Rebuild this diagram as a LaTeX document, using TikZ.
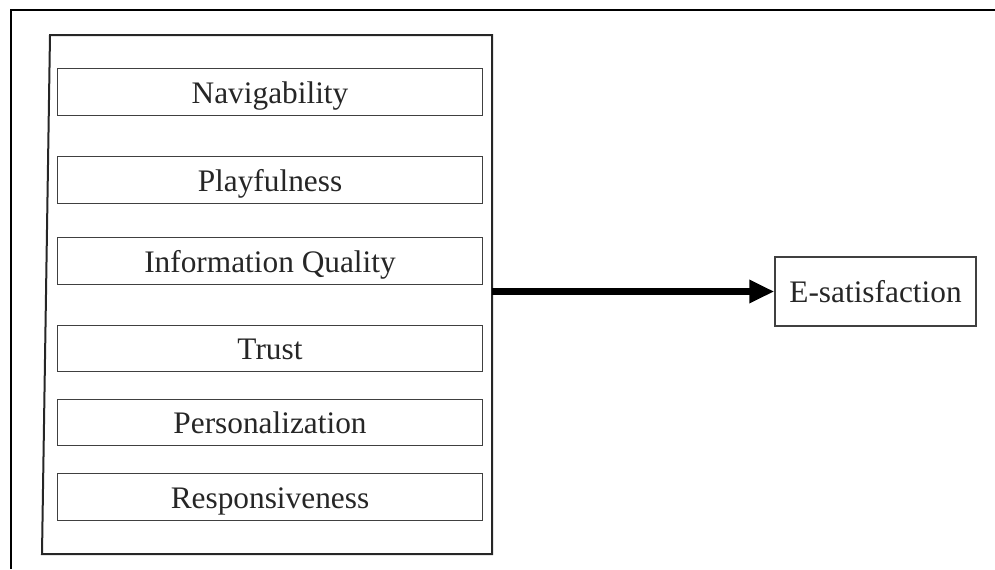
\documentclass[tikz,border=0pt]{standalone}
\usepackage{fontspec}
\setmainfont{Liberation Serif}
\usetikzlibrary{arrows.meta}
\begin{document}
\begin{tikzpicture}[x=0.75pt,y=-0.75pt,
  frameline/.style={line width=1.6pt,black},
  groupline/.style={line width=1.5pt,black!85},
  label text/.style={font=\fontsize{23.5}{27}\selectfont,text=black!85,
    text height=16.5pt,text depth=0pt,inner sep=0pt},
  factor/.style={label text,draw=black!75,line width=1.1pt,minimum width=425.5*0.75pt,
    minimum height=46.5*0.75pt},
  outcome/.style={label text,draw=black!75,line width=1.1pt,minimum width=201*0.75pt,
    minimum height=69*0.75pt},
  link/.style={line width=5pt,-{Triangle[length=25*0.75pt,width=22*0.75pt]}}]
\useasboundingbox (0,0) rectangle (995,569);
% outer frame (top and left edges)
\draw[frameline] (995,10) -- (11,10) -- (11,569);
% slanted group container
\coordinate (gtl) at (50,35);
\coordinate (gtr) at (492,35);
\coordinate (gbr) at (492,554);
\coordinate (gbl) at (42,554);
\draw[groupline] (gtl) -- (gtr) -- (gbr) -- (gbl) -- cycle;
% factor boxes
\node[factor] (nav)  at (270,92)    {Navigability};
\node[factor] (play) at (270,180)   {Playfulness};
\node[factor] (info) at (270,261)   {Information Quality};
\node[factor] (trust) at (270,348.5) {Trust};
\node[factor] (pers) at (270,422.5) {Personalization};
\node[factor] (resp) at (270,497)   {Responsiveness};
% outcome and link
\node[outcome] (esat) at (875.5,291.5) {E-satisfaction};
\coordinate (gout) at (492,291.5);
\draw[link] (gout) -- (esat.west);
\end{tikzpicture}
\end{document}
